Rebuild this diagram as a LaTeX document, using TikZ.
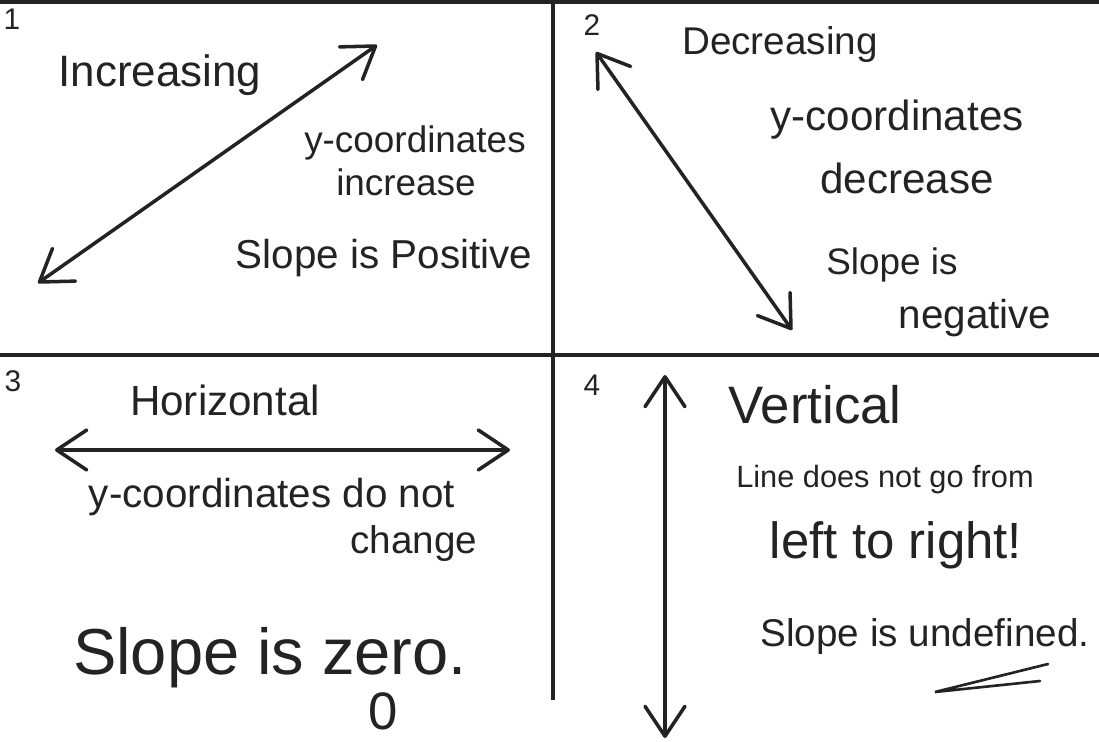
\documentclass[tikz,border=0pt]{standalone}
\usepackage{fontspec}
\setmainfont{Liberation Sans}
\usetikzlibrary{arrows.meta}
\definecolor{ink}{RGB}{35,35,35}
\tikzset{
  >={Straight Barb[length=6mm,width=8mm,round]},
  frame/.style={draw=ink,line width=1.8pt},
  dbl/.style={<->,draw=ink,line width=2pt,line cap=round},
  num/.style={font=\fontsize{17}{19}\selectfont,text=ink,inner sep=0pt},
  hand/.style={font=\fontsize{#1}{#1}\selectfont,text=ink,inner sep=0pt},
  hand/.default=22,
}
\begin{document}
\begin{tikzpicture}[x=0.02cm,y=-0.02cm]
  \useasboundingbox (0,0) rectangle (1099,741);
  % frame of the four boxes
  \draw[frame] (0,2) -- (1099,2);
  \draw[frame] (0,355) -- (1099,355);
  \draw[frame] (553,0) -- (553,700);
  \node[num] (n1) at (12,19) {1};
  \node[num] (n2) at (592,25) {2};
  \node[num] (n3) at (13,381) {3};
  \node[num] (n4) at (592,385) {4};

  % 1: increasing
  \coordinate (a1s) at (38,283);
  \coordinate (a1e) at (377,45);
  \draw[dbl] (a1s) -- (a1e);
  \node[hand=25] (inc) at (160,75) {Increasing};
  \node[hand=21] (yc1) at (415,143) {y-coordinates};
  \node[hand=21] (inc2) at (406,182) {increase};
  \node[hand=23] (pos) at (384,258) {Slope is Positive};

  % 2: decreasing
  \coordinate (a2s) at (596,52);
  \coordinate (a2e) at (792,330);
  \draw[dbl] (a2s) -- (a2e);
  \node[hand=22] (dec) at (780,45) {Decreasing};
  \node[hand=24] (yc2) at (897,120) {y-coordinates};
  \node[hand=24] (dec2) at (907,178) {decrease};
  \node[hand=21] (sl2) at (892,265) {Slope is};
  \node[hand=23] (neg) at (975,318) {negative};

  % 3: horizontal
  \coordinate (a3s) at (55,450);
  \coordinate (a3e) at (510,450);
  \draw[dbl] (a3s) -- (a3e);
  \node[hand=24] (hor) at (225,400) {Horizontal};
  \node[hand=23] (yc3) at (272,497) {y-coordinates do not};
  \node[hand=22] (chg) at (414,543) {change};
  \node[hand=37] (zer) at (270,658) {Slope is zero.};
  \node[hand=30] (zz) at (383,711) {0};

  % 4: vertical
  \coordinate (a4s) at (665,375);
  \coordinate (a4e) at (665,738);
  \draw[dbl] (a4s) -- (a4e);
  \node[hand=30] (ver) at (815,405) {Vertical};
  \node[hand=17.5] (ln) at (885,480) {Line does not go from};
  \node[hand=29] (lr) at (896,545) {left to right!};
  \node[hand=22] (und) at (925,636) {Slope is undefined.};
  \coordinate (u0) at (935,692);
  \coordinate (u1) at (1048,664);
  \coordinate (u2) at (1040,681);
  \draw[ink,line width=1.5pt,line cap=round] (u1) -- (u0) -- (u2);
\end{tikzpicture}
\end{document}
